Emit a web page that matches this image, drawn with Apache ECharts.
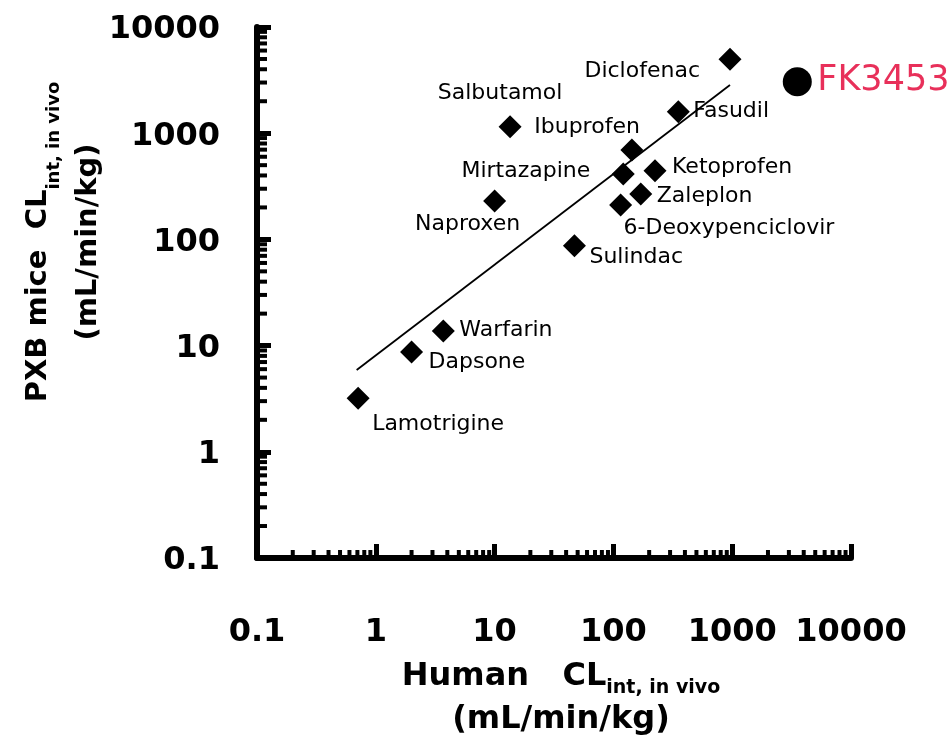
<!DOCTYPE html>
<html>
<head>
<meta charset="utf-8">
<title>Human vs PXB mice intrinsic clearance</title>
<script src="https://cdn.jsdelivr.net/npm/echarts@6.0.0/dist/echarts.min.js"></script>
<style>
  html, body { margin: 0; padding: 0; background: #ffffff; }
  #chart { width: 952px; height: 746px; }
</style>
</head>
<body>
<div id="chart"></div>
<script>
// Reference compounds: human vs PXB-mouse in vivo intrinsic clearance (mL/min/kg)
const compounds = ['Lamotrigine', 'Dapsone', 'Warfarin', 'Naproxen', 'Salbutamol', 'Sulindac',
  '6-Deoxypenciclovir', 'Mirtazapine', 'Ibuprofen', 'Zaleplon', 'Ketoprofen', 'Fasudil', 'Diclofenac'];
const humanClint = [0.71, 2.0, 3.7, 10, 13.5, 47, 115, 121, 143, 170, 224, 352, 958];
const pxbClint = [3.2, 8.7, 13.7, 230, 1150, 87, 211, 413, 695, 268, 444, 1595, 4970];

// Test compound
const testCompound = 'FK3453';
const testHuman = [3530];
const testPxb = [3050];

// Regression line end points
const trendHuman = [0.69, 958];
const trendPxb = [5.9, 2840];

// Decade tick labels, shared by both axes
const tickLabels = ['0.1', '1', '10', '100', '1000', '10000'];

// Label placement around each diamond (offset from the marker centre)
const labelPlacement = {
  'Lamotrigine':        { align: 'left',   dx: 14,  dy: 26 },
  'Dapsone':            { align: 'left',   dx: 17,  dy: 10 },
  'Warfarin':           { align: 'left',   dx: 16,  dy: -1 },
  'Naproxen':           { align: 'center', dx: -27, dy: 23 },
  'Salbutamol':         { align: 'center', dx: -10, dy: -33 },
  'Sulindac':           { align: 'left',   dx: 15,  dy: 11 },
  '6-Deoxypenciclovir': { align: 'left',   dx: 3,   dy: 23 },
  'Mirtazapine':        { align: 'right',  dx: -33, dy: -3 },
  'Ibuprofen':          { align: 'right',  dx: 8,   dy: -23 },
  'Zaleplon':           { align: 'left',   dx: 16,  dy: 2 },
  'Ketoprofen':         { align: 'left',   dx: 17,  dy: -3 },
  'Fasudil':            { align: 'left',   dx: 15,  dy: 0 },
  'Diclofenac':         { align: 'right',  dx: -30, dy: 12 }
};

const labelFont = 'DejaVu Sans';
const boldFont = 'DejaVu Sans';

function decadeLabel(v) {
  const i = Math.round(Math.log10(v)) + 1;
  return tickLabels[i] !== undefined ? tickLabels[i] : '';
}

// Minor ticks at 2..9 within each decade
const minorValues = [];
for (let d = -1; d <= 3; d++) {
  for (let m = 2; m <= 9; m++) minorValues.push(m * Math.pow(10, d));
}

function minorTickSeries(dir) {
  return {
    type: 'custom',
    silent: true,
    clip: false,
    z: 4,
    data: minorValues.map(v => dir === 'x' ? [v, 0.1] : [0.1, v]),
    renderItem: function (params, api) {
      const p = api.coord([api.value(0), api.value(1)]);
      const shape = dir === 'x'
        ? { x1: p[0], y1: p[1], x2: p[0], y2: p[1] - 8 }
        : { x1: p[0], y1: p[1], x2: p[0] + 10, y2: p[1] };
      return { type: 'line', shape: shape, style: { stroke: '#000', lineWidth: 4 } };
    }
  };
}

const compoundData = compounds.map((name, i) => {
  const pl = labelPlacement[name];
  return {
    name: name,
    value: [humanClint[i], pxbClint[i]],
    label: {
      show: true,
      position: 'inside',
      align: pl.align,
      verticalAlign: 'middle',
      offset: [pl.dx, pl.dy],
      formatter: name,
      fontFamily: labelFont,
      fontSize: 22,
      color: '#000'
    }
  };
});

const axisCommon = {
  type: 'log',
  logBase: 10,
  min: 0.1,
  max: 10000,
  splitLine: { show: false },
  axisLine: { show: true, onZero: false, lineStyle: { color: '#000', width: 6 } },
  axisTick: { show: true, inside: true, length: 14, lineStyle: { color: '#000', width: 5 } },
  minorTick: { show: false }
};

const chart = echarts.init(document.getElementById('chart'), null, { renderer: 'canvas' });

chart.setOption({
  animation: false,
  backgroundColor: '#ffffff',
  grid: {
    left: 257, top: 27, width: 594, height: 531,
    containLabel: false,
    outerBoundsMode: 'none'
  },
  xAxis: Object.assign({}, axisCommon, {
    axisLabel: {
      margin: 59,
      formatter: decadeLabel,
      fontFamily: boldFont,
      fontWeight: 'bold',
      fontSize: 32,
      color: '#000',
      showMinLabel: true,
      showMaxLabel: true
    }
  }),
  yAxis: Object.assign({}, axisCommon, {
    axisLabel: {
      margin: 37,
      formatter: decadeLabel,
      fontFamily: boldFont,
      fontWeight: 'bold',
      fontSize: 32,
      color: '#000',
      verticalAlign: 'top',
      lineHeight: 6,
      showMinLabel: true,
      showMaxLabel: true
    }
  }),
  series: [
    {
      type: 'line',
      data: trendHuman.map((x, i) => [x, trendPxb[i]]),
      showSymbol: false,
      symbol: 'none',
      silent: true,
      z: 2,
      lineStyle: { color: '#000', width: 1.8, opacity: 1 }
    },
    {
      type: 'scatter',
      symbol: 'diamond',
      symbolSize: 23,
      itemStyle: { color: '#000', opacity: 1 },
      z: 3,
      data: compoundData
    },
    {
      type: 'scatter',
      symbol: 'circle',
      symbolSize: 29,
      itemStyle: { color: '#000', opacity: 1 },
      z: 3,
      data: testHuman.map((x, i) => ({
        name: testCompound,
        value: [x, testPxb[i]],
        label: {
          show: true,
          position: 'inside',
          align: 'left',
          verticalAlign: 'middle',
          offset: [20, -1],
          formatter: testCompound,
          fontFamily: labelFont,
          fontSize: 35,
          color: '#E8305A'
        }
      }))
    },
    minorTickSeries('x'),
    minorTickSeries('y')
  ],
  graphic: [
    {
      type: 'text',
      x: 561,
      y: 698,
      style: {
        text: '{b|Human   CL}{s|int, in vivo}\n{b|(mL/min/kg)}',
        align: 'center',
        verticalAlign: 'middle',
        rich: {
          b: { fontFamily: boldFont, fontWeight: 'bold', fontSize: 32, lineHeight: 43, fill: '#000' },
          s: { fontFamily: boldFont, fontWeight: 'bold', fontSize: 19, lineHeight: 20, verticalAlign: 'bottom', fill: '#000' }
        }
      }
    },
    {
      type: 'text',
      x: 63,
      y: 242,
      rotation: Math.PI / 2,
      style: {
        text: '{b|PXB mice  CL}{s|int, in vivo}\n{b|(mL/min/kg)}',
        align: 'center',
        verticalAlign: 'middle',
        rich: {
          b: { fontFamily: boldFont, fontWeight: 'bold', fontSize: 29, lineHeight: 50, fill: '#000' },
          s: { fontFamily: boldFont, fontWeight: 'bold', fontSize: 18, lineHeight: 30, verticalAlign: 'bottom', fill: '#000' }
        }
      }
    }
  ]
});
</script>
</body>
</html>
